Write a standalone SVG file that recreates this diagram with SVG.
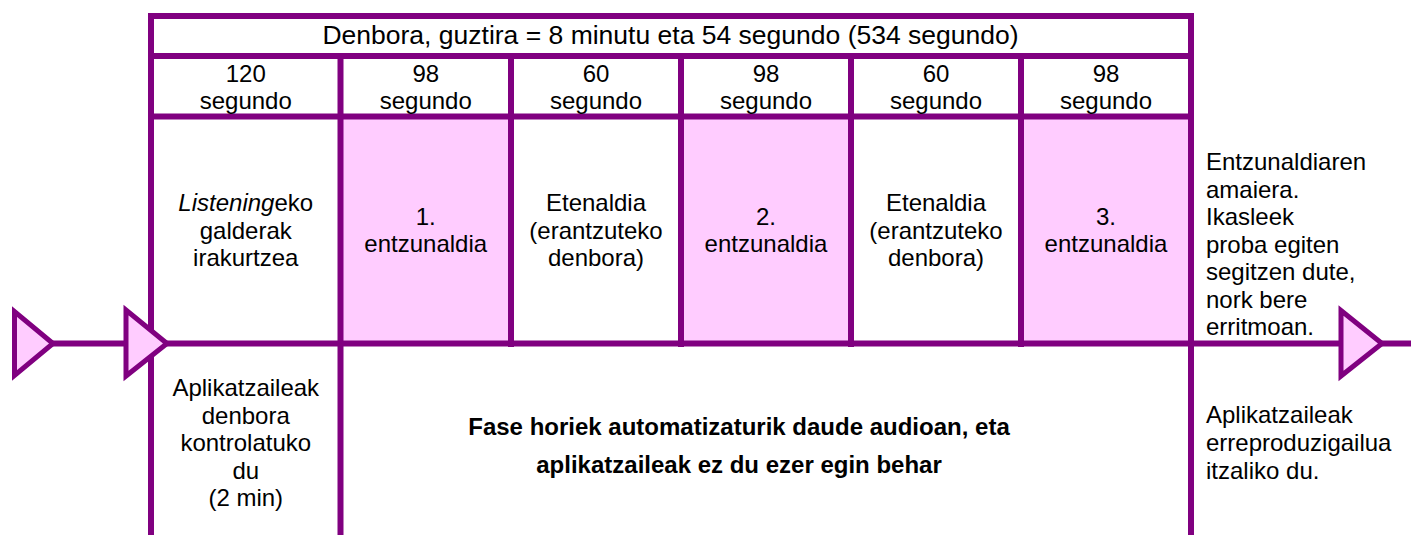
<svg xmlns="http://www.w3.org/2000/svg" width="1411" height="535" viewBox="0 0 1411 535">
<style>
.ln{stroke:#800080;stroke-width:6;fill:none}
.pk{fill:#FFCCFF}
.tri{fill:#FFCCFF;stroke:#800080;stroke-width:5;stroke-linejoin:miter}
text{font-family:"Liberation Sans",Arial,sans-serif;font-size:24px;fill:#000}
.c{text-anchor:middle}
.h{font-size:26.5px}
.b{font-weight:bold}
</style>
<rect width="1411" height="535" fill="#fff"/>
<g id="fills">
<rect class="pk" x="340" y="118" width="171" height="225"/>
<rect class="pk" x="681" y="118" width="170" height="225"/>
<rect class="pk" x="1021" y="118" width="170" height="225"/>
</g>
<g id="connectors">
<line class="ln" x1="52" y1="343.5" x2="1411" y2="343.5"/>
<line class="ln" x1="148" y1="16" x2="1194" y2="16"/>
<line class="ln" x1="148" y1="56" x2="1194" y2="56"/>
<line class="ln" x1="148" y1="116.5" x2="1194" y2="116.5"/>
<line class="ln" x1="151" y1="13" x2="151" y2="535"/>
<line class="ln" x1="1191" y1="13" x2="1191" y2="535"/>
<line class="ln" x1="340.5" y1="53" x2="340.5" y2="535"/>
<line class="ln" x1="511" y1="53" x2="511" y2="347"/>
<line class="ln" x1="681" y1="53" x2="681" y2="347"/>
<line class="ln" x1="851" y1="53" x2="851" y2="347"/>
<line class="ln" x1="1021" y1="53" x2="1021" y2="347"/>
<polygon class="tri" points="14.5,311.5 14.5,375.5 53,343.5"/>
<polygon class="tri" points="126,310 126,376 167,343.5"/>
<polygon class="tri" points="1341,310.5 1341,376 1382,343.5"/>
</g>
<g id="header"><text class="c h" x="670.5" y="43.5">Denbora, guztira = 8 minutu eta 54 segundo (534 segundo)</text></g>
<g id="dur1"><text class="c" x="245.75" y="82">120</text><text class="c" x="245.75" y="109">segundo</text></g>
<g id="dur2"><text class="c" x="425.75" y="82">98</text><text class="c" x="425.75" y="109">segundo</text></g>
<g id="dur3"><text class="c" x="596" y="82">60</text><text class="c" x="596" y="109">segundo</text></g>
<g id="dur4"><text class="c" x="766" y="82">98</text><text class="c" x="766" y="109">segundo</text></g>
<g id="dur5"><text class="c" x="936" y="82">60</text><text class="c" x="936" y="109">segundo</text></g>
<g id="dur6"><text class="c" x="1106" y="82">98</text><text class="c" x="1106" y="109">segundo</text></g>
<g id="phase1"><text class="c" x="245.75" y="211"><tspan font-style="italic">Listening</tspan>eko</text><text class="c" x="245.75" y="238.5">galderak</text><text class="c" x="245.75" y="266">irakurtzea</text></g>
<g id="phase2"><text class="c" x="425.75" y="224.5">1.</text><text class="c" x="425.75" y="252">entzunaldia</text></g>
<g id="phase3"><text class="c" x="596" y="211">Etenaldia</text><text class="c" x="596" y="238.5">(erantzuteko</text><text class="c" x="596" y="266">denbora)</text></g>
<g id="phase4"><text class="c" x="766" y="224.5">2.</text><text class="c" x="766" y="252">entzunaldia</text></g>
<g id="phase5"><text class="c" x="936" y="211">Etenaldia</text><text class="c" x="936" y="238.5">(erantzuteko</text><text class="c" x="936" y="266">denbora)</text></g>
<g id="phase6"><text class="c" x="1106" y="224.5">3.</text><text class="c" x="1106" y="252">entzunaldia</text></g>
<g id="end"><text x="1206" y="170">Entzunaldiaren</text><text x="1206" y="197.5">amaiera.</text><text x="1206" y="225">Ikasleek</text><text x="1206" y="252.5">proba egiten</text><text x="1206" y="280">segitzen dute,</text><text x="1206" y="307.5">nork bere</text><text x="1206" y="335">erritmoan.</text></g>
<g id="note1"><text class="c" x="245.75" y="396">Aplikatzaileak</text><text class="c" x="245.75" y="423.6">denbora</text><text class="c" x="245.75" y="451.2">kontrolatuko</text><text class="c" x="245.75" y="478.8">du</text><text class="c" x="245.75" y="506.4">(2 min)</text></g>
<g id="note2"><text class="c b" x="739" y="435">Fase horiek automatizaturik daude audioan, eta</text><text class="c b" x="739" y="473">aplikatzaileak ez du ezer egin behar</text></g>
<g id="note3"><text x="1206" y="423.3">Aplikatzaileak</text><text x="1206" y="451">erreproduzigailua</text><text x="1206" y="479.3">itzaliko du.</text></g>
</svg>
